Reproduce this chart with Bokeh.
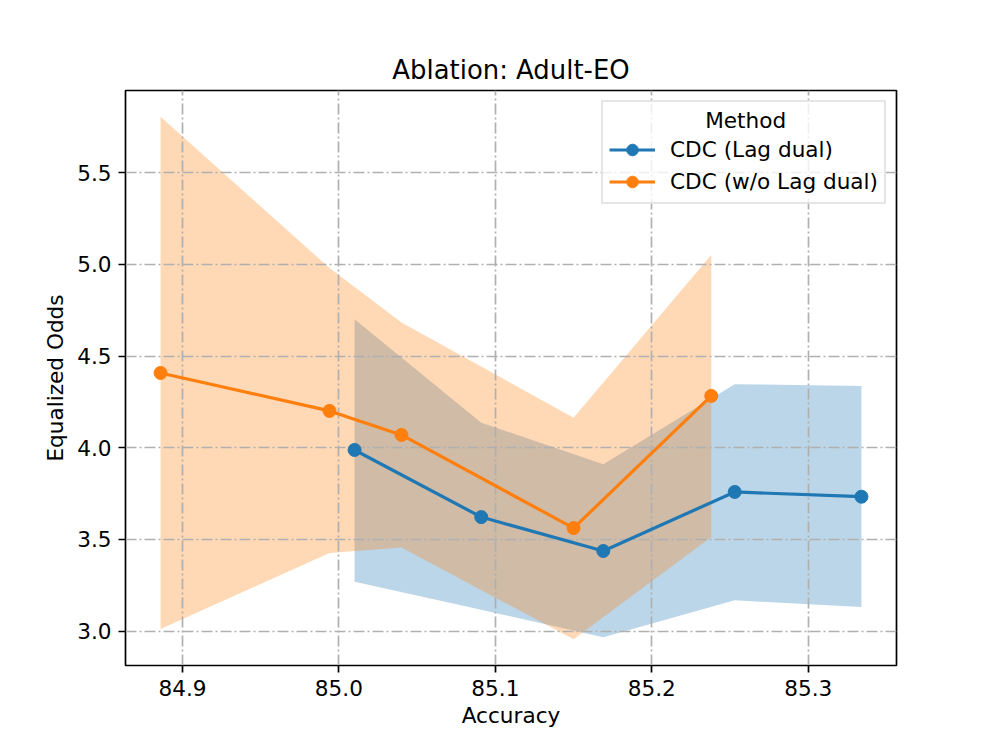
from bokeh.plotting import figure
from bokeh.models import Range1d, FixedTicker, Legend, LegendItem, NumeralTickFormatter
from bokeh.embed import file_html
from bokeh.resources import INLINE

# ---- data ----
lag_acc = [85.010, 85.091, 85.169, 85.253, 85.334]
lag_eo = [3.988, 3.622, 3.437, 3.759, 3.733]
lag_lo = [3.269, 3.117, 2.967, 3.168, 3.131]
lag_hi = [4.701, 4.137, 3.910, 4.347, 4.337]

wo_acc = [84.886, 84.994, 85.040, 85.150, 85.238]
wo_eo = [4.408, 4.201, 4.070, 3.562, 4.283]
wo_lo = [3.011, 3.426, 3.456, 2.955, 3.513]
wo_hi = [5.806, 4.980, 4.683, 4.164, 5.052]

x_ticks = [84.9, 85.0, 85.1, 85.2, 85.3]
y_ticks = [3.0, 3.5, 4.0, 4.5, 5.0, 5.5]

title_text = "Ablation: Adult-EO"
x_label = "Accuracy"
y_label = "Equalized Odds"
legend_title = "Method"
names = ["CDC (Lag dual)", "CDC (w/o Lag dual)"]

BLUE = "#1f77b4"
ORANGE = "#ff7f0e"
FONT = "DejaVu Sans"

# 5% margins like the original library
xs = lag_acc + wo_acc
ys = lag_lo + lag_hi + wo_lo + wo_hi
xm = (max(xs) - min(xs)) * 0.05
ym = (max(ys) - min(ys)) * 0.05

p = figure(width=980, height=731, output_backend="svg", toolbar_location=None,
           x_range=Range1d(min(xs) - xm, max(xs) + xm),
           y_range=Range1d(min(ys) - ym, max(ys) + ym),
           min_border_left=125, min_border_right=84, min_border_top=90, min_border_bottom=66)

p.title.text = title_text
p.title.text_font = FONT
p.title.text_font_size = "25.9px"
p.title.text_font_style = "normal"
p.title.text_color = "black"
p.title.align = "center"
p.title.standoff = 11

p.background_fill_color = "white"
p.border_fill_color = "white"
p.outline_line_color = "black"
p.outline_line_width = 1.7
p.outline_line_alpha = 1.0

for ax, ticks, lab in ((p.xaxis[0], x_ticks, x_label), (p.yaxis[0], y_ticks, y_label)):
    ax.ticker = FixedTicker(ticks=ticks)
    ax.formatter = NumeralTickFormatter(format="0.0")
    ax.axis_label = lab
    ax.axis_label_text_font = FONT
    ax.axis_label_text_font_size = "21.6px"
    ax.axis_label_text_font_style = "normal"
    ax.axis_label_text_color = "black"
    ax.axis_label_standoff = 6
    ax.major_label_text_font = FONT
    ax.major_label_text_font_size = "21.6px"
    ax.major_label_text_color = "black"
    ax.major_label_standoff = 7
    ax.axis_line_color = None
    ax.major_tick_in = 0
    ax.major_tick_out = 7
    ax.major_tick_line_width = 1.7
    ax.major_tick_line_color = "black"
    ax.minor_tick_line_color = None

p.xaxis[0].axis_label_standoff = 4

p.xgrid[0].ticker = FixedTicker(ticks=x_ticks)
p.ygrid[0].ticker = FixedTicker(ticks=y_ticks)
for g in (p.xgrid[0], p.ygrid[0]):
    g.grid_line_color = "#b0b0b0"
    g.grid_line_width = 1.7
    g.grid_line_dash = "11 3 2 3"

# bands (below grid)
p.varea(x=lag_acc, y1=lag_lo, y2=lag_hi, fill_color=BLUE, fill_alpha=0.3, level="image")
p.varea(x=wo_acc, y1=wo_lo, y2=wo_hi, fill_color=ORANGE, fill_alpha=0.3, level="image")

l1 = p.line(lag_acc, lag_eo, line_color=BLUE, line_width=3.2)
s1 = p.scatter(lag_acc, lag_eo, size=13, fill_color=BLUE, line_color=BLUE)
l2 = p.line(wo_acc, wo_eo, line_color=ORANGE, line_width=3.2)
s2 = p.scatter(wo_acc, wo_eo, size=13, fill_color=ORANGE, line_color=ORANGE)

# centre the legend title (non-breaking spaces in front)
legend = Legend(items=[LegendItem(label=names[0], renderers=[l1, s1]),
                       LegendItem(label=names[1], renderers=[l2, s2])],
                location="top_right", margin=10, padding=6, spacing=3,
                glyph_width=46, glyph_height=29, label_height=29, label_standoff=15,
                title="\u00a0" * 14 + legend_title)
legend.title_text_font = FONT
legend.title_text_font_size = "21.6px"
legend.title_text_font_style = "normal"
legend.title_text_color = "black"
legend.title_standoff = 2
legend.label_text_font = FONT
legend.label_text_font_size = "21.6px"
legend.label_text_color = "black"
legend.border_line_color = "#cccccc"
legend.border_line_width = 2
legend.background_fill_alpha = 0.8
p.add_layout(legend)

open("out.html", "w").write(file_html(p, INLINE))
